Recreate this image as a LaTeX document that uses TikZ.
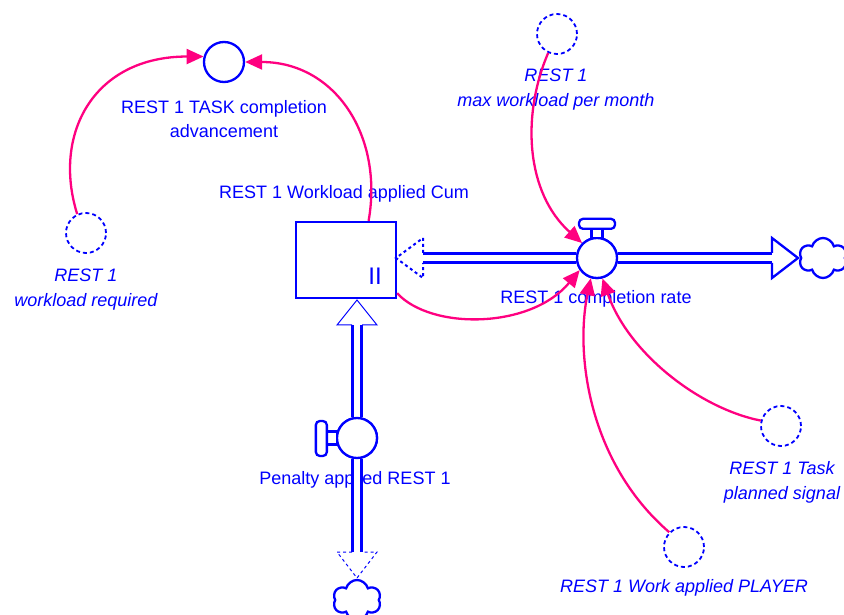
\documentclass[tikz,border=0pt]{standalone}
\usepackage{fontspec}
\setmainfont{Liberation Sans}
\usetikzlibrary{arrows.meta,shapes.symbols}
\definecolor{vblue}{RGB}{0,0,255}
\definecolor{vpink}{RGB}{255,0,128}
\begin{document}
\begin{tikzpicture}[x=1pt, y=1pt,
  every node/.style={font=\fontsize{18}{24}\selectfont, text=vblue},
  aux/.style={circle, draw=vblue, line width=2.3pt, minimum size=40pt, inner sep=0pt},
  ghost/.style={aux, line width=1.8pt, dash pattern=on 4pt off 3pt},
  valve/.style={aux, fill=white},
  lbl/.style={align=center},
  glbl/.style={align=center, font=\fontsize{18}{25}\selectfont\itshape},
  pipe/.style={draw=vblue, line width=2.3pt, double=white, double distance=6.5pt},
  link/.style={draw=vpink, line width=2.3pt, -{Triangle[length=17pt,width=15pt]}},
  sky/.style={cloud, cloud puffs=6, draw=vblue, line width=2.3pt, minimum width=48pt, minimum height=40pt, inner sep=0pt}]
\useasboundingbox (0,0) rectangle (844,614);
\node[lbl] (tcalbl) at (224,495){REST 1 TASK completion\\advancement};
\node[glbl] (wrlbl) at (86,324){REST 1\\workload required};
\node[lbl] (stocklbl) at (344,420){REST 1 Workload applied Cum};
\node[glbl] (mwlbl) at (556,524){REST 1\\max workload per month};
\node[lbl] (ratelbl) at (596,315){REST 1 completion rate};
\node[glbl] (tplbl) at (782,132){REST 1 Task\\planned signal};
\node[glbl] (waplbl) at (684,26){REST 1 Work applied PLAYER};
\node[lbl] (penaltylbl) at (355,134){Penalty applied REST 1};
\node[aux] (tca) at (224,552){};
\node[ghost] (wr) at (86,381){};
\node[ghost] (mw) at (557,580){};
\node[ghost] (tp) at (781,188){};
\node[ghost] (wap) at (684,67){};
\node[draw=vblue, line width=2.3pt, minimum width=100pt, minimum height=76pt, inner sep=0pt] (stock) at (346,354){};
\node[font=\fontsize{24}{24}\selectfont] (stockmark) at (375,338){II};
\coordinate (inhead) at (423,356);
\coordinate (outhead) at (772,356);
\coordinate (uphead) at (357,289);
\coordinate (downhead) at (357,62);
\node[sky] (sink) at (823,356){};
\node[sky] (source) at (357,14){};
\node[valve] (rate) at (597,356){};
\node[valve] (penalty) at (357,176){};
\draw[pipe](inhead) -- (rate);
\draw[pipe](rate) -- (outhead);
\draw[pipe](penalty) -- (uphead);
\draw[pipe](penalty) -- (downhead);
\node[valve] at (rate){};
\node[valve] at (penalty){};
\draw[vblue, line width=2pt, dashed](inhead) ++(0,5) -- ++(0,15) -- ++(-27,-20) -- ++(27,-20) -- ++(0,15);
\draw[vblue, line width=2.3pt](outhead) ++(0,5) -- ++(0,15) -- ++(26,-20) -- ++(-26,-20) -- ++(0,15);
\draw[vblue, line width=1pt](uphead) ++(-5,0) -- ++(-15,0) -- ++(20,25) -- ++(20,-25) -- ++(-15,0);
\draw[vblue, line width=1pt, dashed](downhead) ++(-5,0) -- ++(-15,0) -- ++(20,-26) -- ++(20,26) -- ++(-15,0);
\draw[vblue, line width=2.3pt, fill=white](rate.north) ++(-5.5,-1) rectangle ++(11,9);
\draw[vblue, line width=2.3pt, fill=white, rounded corners=4pt](rate.north) ++(-18,8) rectangle ++(36,10);
\draw[vblue, line width=2.3pt, fill=white](penalty.west) ++(1,-6.5) rectangle ++(-10,13);
\draw[vblue, line width=2.3pt, fill=white, rounded corners=4pt](penalty.west) ++(-9,-18) rectangle ++(-11,35);
\draw[link](wr.115) .. controls +(-25,80) and +(-110,0) .. (tca.165);
\draw[link](stock.60) .. controls +(15,85) and +(90,0) .. (tca.east);
\draw[link](mw.245) .. controls +(-27,-63) and +(-56,50) .. (rate.135);
\draw[link](stock.-33) .. controls +(34,-37) and +(-49,-59) .. (rate.215);
\draw[link](tp.165) .. controls +(-61,12) and +(26,-75) .. (rate.285);
\draw[link](wap.135) .. controls +(-80,69) and +(-16,-77) .. (rate.253);
\end{tikzpicture}
\end{document}
